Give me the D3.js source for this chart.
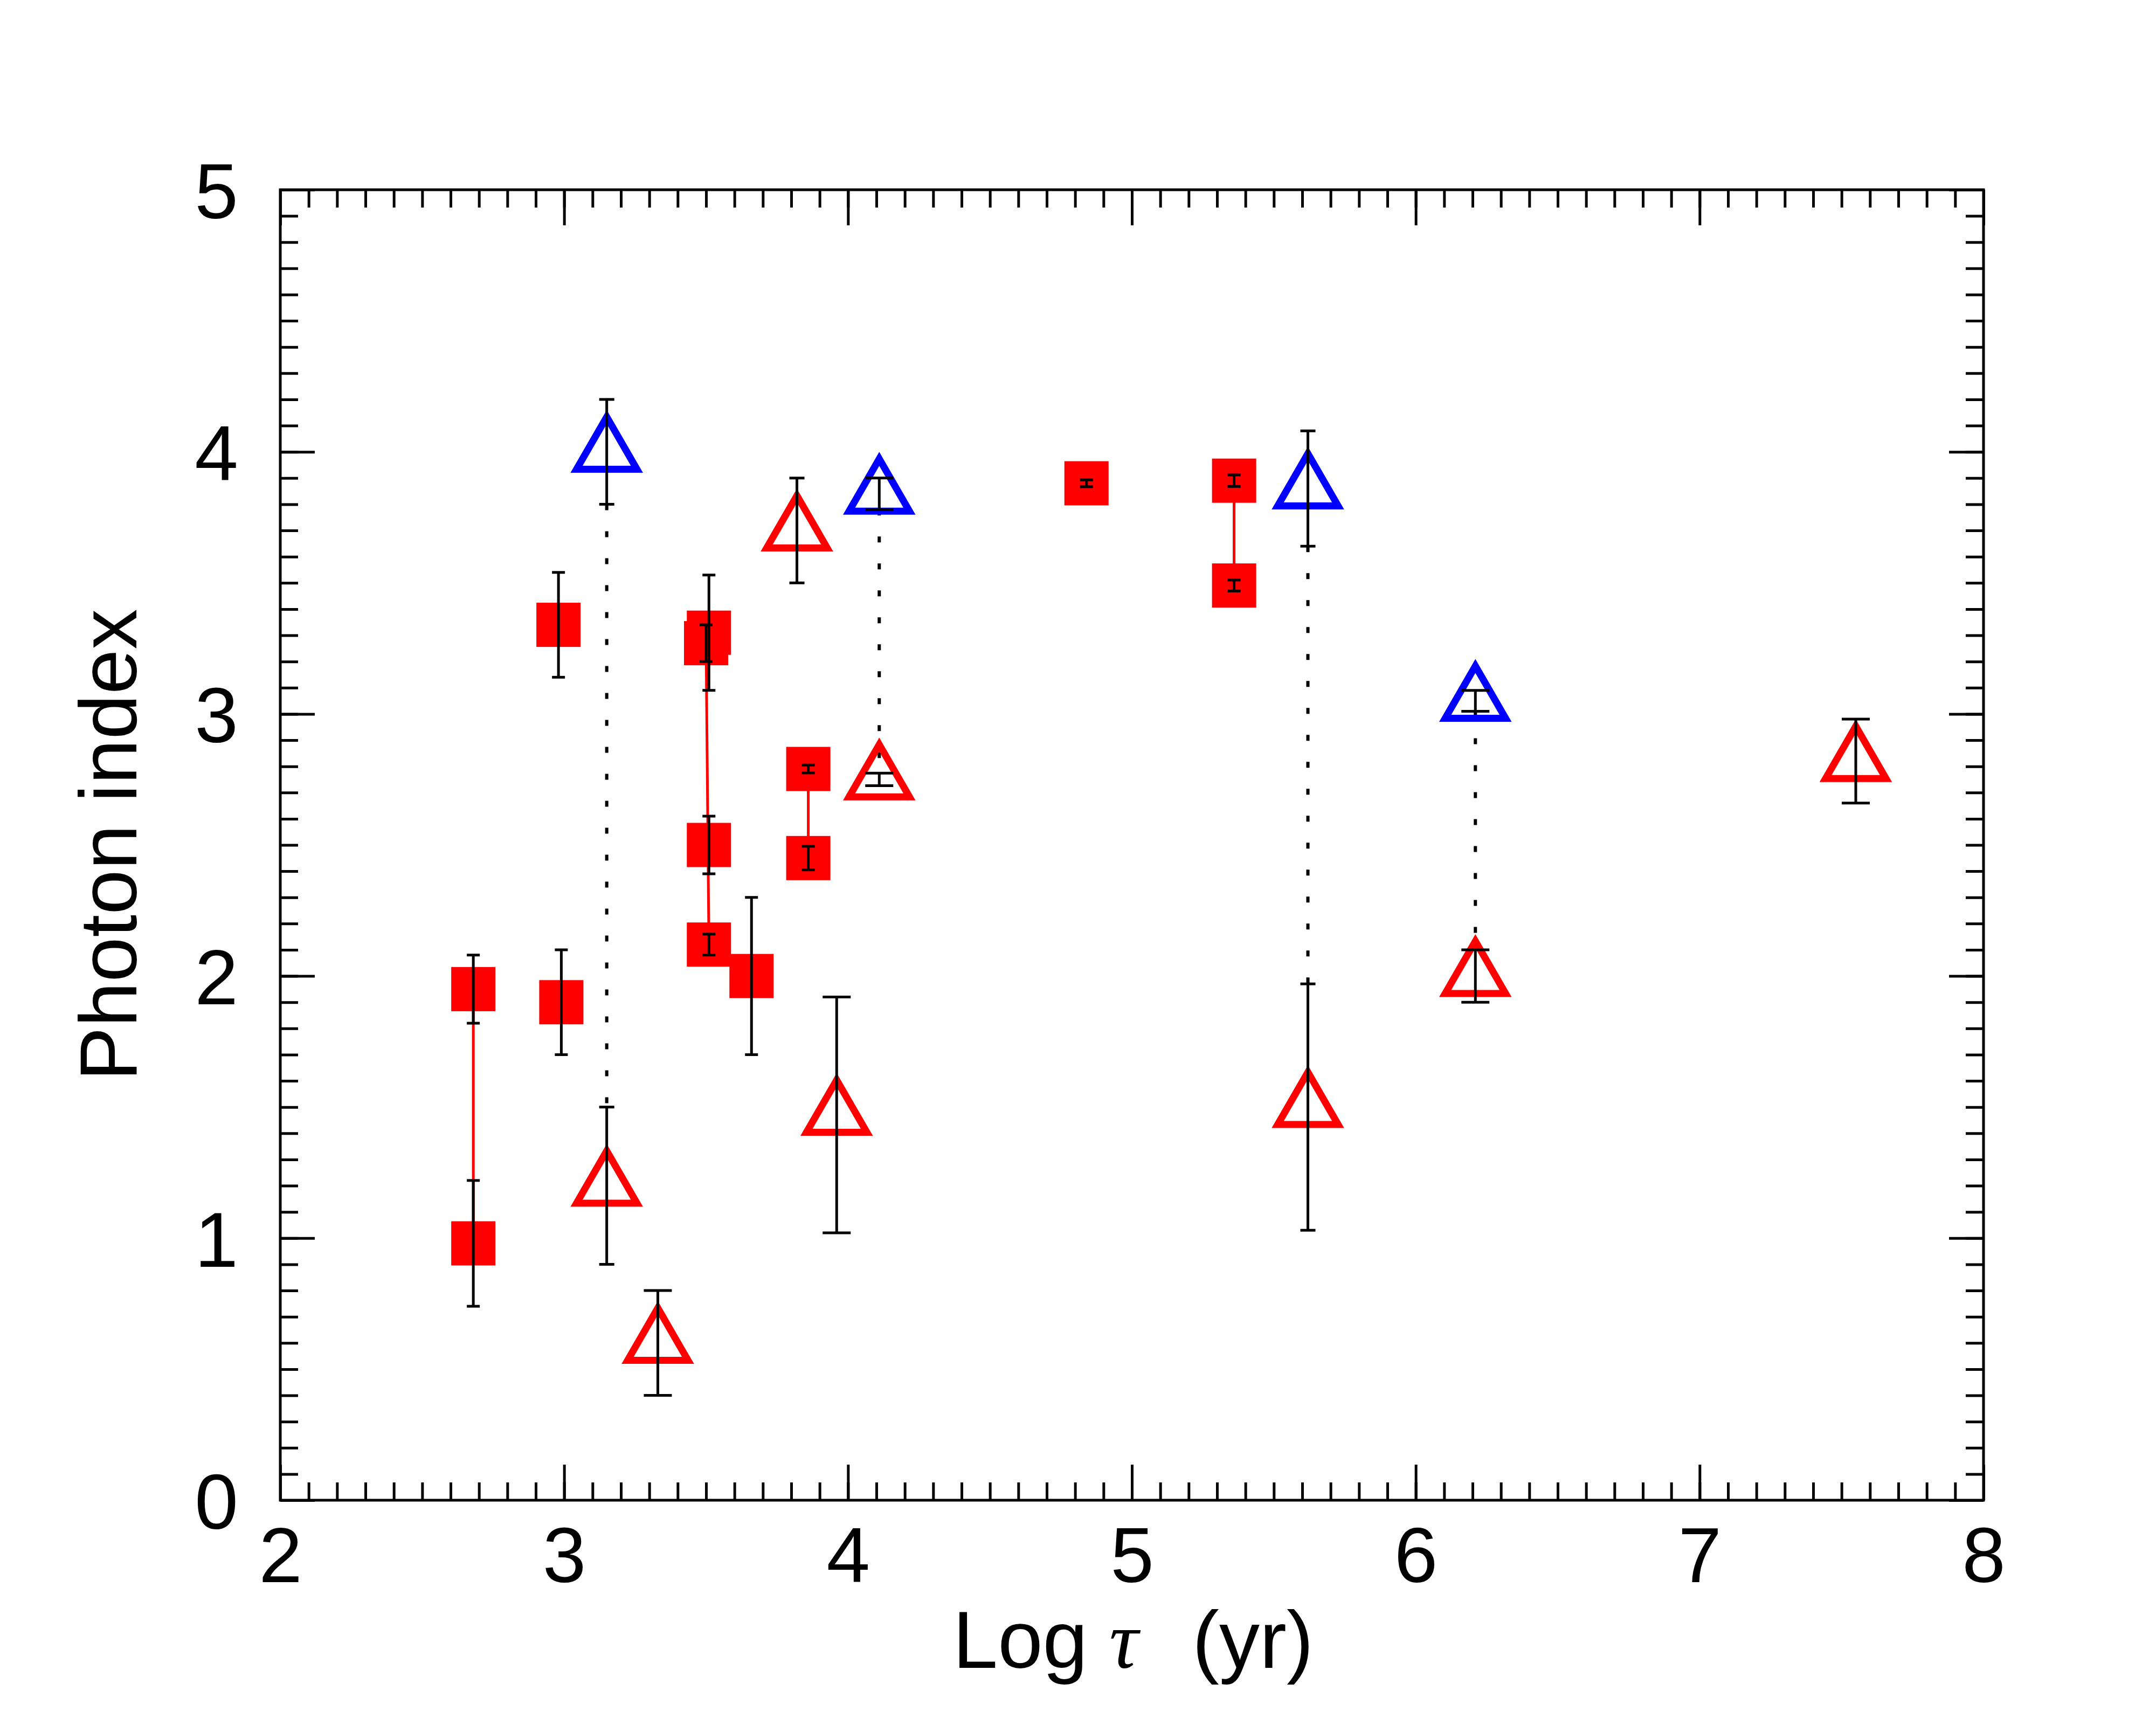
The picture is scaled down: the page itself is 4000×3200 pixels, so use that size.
<!DOCTYPE html>
<html>
<head>
<meta charset="utf-8">
<script src="https://cdn.jsdelivr.net/npm/d3@7"></script>
<style>
  body { margin: 0; background: #fff; }
  text { font-family: "Liberation Sans", Arial, Helvetica, sans-serif; }
</style>
</head>
<body>
<div id="chart"></div>
<script>
// Tick labels
const xTicks = [2, 3, 4, 5, 6, 7, 8];
const yTicks = [0, 1, 2, 3, 4, 5];

// Filled red squares
const sqLogAge = [2.68, 2.68, 2.98, 2.99, 3.51, 3.50, 3.51, 3.51, 3.66, 3.86, 3.86, 4.84, 5.36, 5.36];
const sqIndex  = [0.98, 1.95, 3.34, 1.90, 3.31, 3.27, 2.50, 2.12, 2.00, 2.79, 2.45, 3.88, 3.89, 3.49];
const sqErr    = [0.24, 0.13, 0.20, 0.20, 0.22, 0.07, 0.11, 0.04, 0.30, 0.015, 0.045, 0.013, 0.022, 0.021];
// pairs of squares joined by a red line
const sqLinks = [[0, 1], [5, 7], [9, 10], [12, 13]];

// Open red triangles
const rtLogAge = [3.15, 3.33, 3.82, 3.96, 4.11, 5.62, 6.21, 7.55];
const rtIndex  = [1.20, 0.60, 3.70, 1.47, 2.75, 1.50, 2.00, 2.82];
const rtErr    = [0.30, 0.20, 0.20, 0.45, 0.024, 0.47, 0.10, 0.16];

// Open blue triangles
const btLogAge = [3.15, 4.11, 5.62, 6.21];
const btIndex  = [4.00, 3.84, 3.86, 3.05];
const btErr    = [0.20, 0.06, 0.22, 0.04];
// blue triangle -> red triangle, dotted
const triLinks = [[0, 0], [1, 4], [2, 5], [3, 6]];

const W = 4000, H = 3200;
const margin = {top: 352, right: 320, bottom: 417, left: 520};
const width = W - margin.left - margin.right;
const height = H - margin.top - margin.bottom;

const svg = d3.select("#chart").append("svg")
  .attr("width", W)
  .attr("height", H)
  .attr("viewBox", `0 0 ${W} ${H}`);

svg.append("rect").attr("width", W).attr("height", H).attr("fill", "#fff");

const g = svg.append("g").attr("transform", `translate(${margin.left},${margin.top})`);

const x = d3.scaleLinear().domain([2, 8]).range([0, width]);
const y = d3.scaleLinear().domain([0, 5]).range([height, 0]);

const xMinor = d3.range(20, 81).map(d => d / 10);
const yMinor = d3.range(0, 51).map(d => d / 10);

// Axes: majors with labels, minors without, ticks pointing inward
function styleAxis(sel) {
  sel.select(".domain").remove();
  sel.selectAll(".tick line").attr("stroke", "#000").attr("stroke-width", 5);
  sel.selectAll(".tick text")
    .attr("fill", "#000")
    .style("font-size", "145px")
    .style("font-family", "'Liberation Sans', Arial, Helvetica, sans-serif");
}

g.append("g").attr("transform", `translate(0,${height})`)
  .call(d3.axisBottom(x).tickValues(xMinor).tickSize(-33).tickFormat(""))
  .call(styleAxis);
g.append("g").attr("transform", `translate(0,${height})`)
  .call(d3.axisBottom(x).tickValues(xTicks).tickSize(-66).tickPadding(49).tickFormat(d3.format("d")))
  .call(styleAxis);
g.append("g")
  .call(d3.axisTop(x).tickValues(xMinor).tickSize(-33).tickFormat(""))
  .call(styleAxis);
g.append("g")
  .call(d3.axisTop(x).tickValues(xTicks).tickSize(-66).tickFormat(""))
  .call(styleAxis);

g.append("g")
  .call(d3.axisLeft(y).tickValues(yMinor).tickSize(-33).tickFormat(""))
  .call(styleAxis);
g.append("g")
  .call(d3.axisLeft(y).tickValues(yTicks).tickSize(-64).tickPadding(78).tickFormat(d3.format("d")))
  .call(styleAxis)
  .selectAll(".tick text").attr("dy", "0.36em");
g.append("g").attr("transform", `translate(${width},0)`)
  .call(d3.axisRight(y).tickValues(yMinor).tickSize(-33).tickFormat(""))
  .call(styleAxis);
g.append("g").attr("transform", `translate(${width},0)`)
  .call(d3.axisRight(y).tickValues(yTicks).tickSize(-64).tickFormat(""))
  .call(styleAxis);

// Frame
g.append("rect")
  .attr("x", 0).attr("y", 0)
  .attr("width", width).attr("height", height)
  .attr("fill", "none")
  .attr("stroke", "#000")
  .attr("stroke-width", 5);

// Axis titles (x title in three pieces: Log, tau, (yr))
const cx = margin.left + width / 2;
const titleY = 3094;
svg.append("text")
  .attr("x", cx - 82).attr("y", titleY)
  .attr("text-anchor", "end")
  .style("font-size", "150px")
  .attr("fill", "#000")
  .text("Log");
svg.append("text")
  .attr("x", cx - 42).attr("y", titleY)
  .attr("text-anchor", "start")
  .style("font-family", "'Liberation Serif', 'Times New Roman', serif")
  .style("font-style", "italic")
  .style("font-size", "150px")
  .attr("fill", "#000")
  .text("τ");
svg.append("text")
  .attr("x", cx + 112).attr("y", titleY)
  .attr("text-anchor", "start")
  .style("font-size", "150px")
  .attr("fill", "#000")
  .text("(yr)");

svg.append("text")
  .attr("transform", `translate(253,${margin.top + height / 2}) rotate(-90)`)
  .attr("text-anchor", "middle")
  .style("font-size", "150px")
  .attr("fill", "#000")
  .text("Photon index");

const squares = sqLogAge.map((d, i) => ({x: d, y: sqIndex[i], e: sqErr[i]}));
const redTri = rtLogAge.map((d, i) => ({x: d, y: rtIndex[i], e: rtErr[i]}));
const blueTri = btLogAge.map((d, i) => ({x: d, y: btIndex[i], e: btErr[i]}));

// Dotted links between blue and red triangles
g.selectAll("line.dotlink")
  .data(triLinks)
  .join("line")
  .attr("class", "dotlink")
  .attr("x1", d => x(blueTri[d[0]].x))
  .attr("x2", d => x(redTri[d[1]].x))
  .attr("y1", d => y(blueTri[d[0]].y - blueTri[d[0]].e))
  .attr("y2", d => y(redTri[d[1]].y + redTri[d[1]].e))
  .attr("stroke", "#000")
  .attr("stroke-width", 6)
  .attr("stroke-dasharray", "11 39");

// Solid red links between squares
g.selectAll("line.sqlink")
  .data(sqLinks)
  .join("line")
  .attr("class", "sqlink")
  .attr("x1", d => x(squares[d[0]].x))
  .attr("x2", d => x(squares[d[1]].x))
  .attr("y1", d => y(squares[d[0]].y))
  .attr("y2", d => y(squares[d[1]].y))
  .attr("stroke", "#ff0000")
  .attr("stroke-width", 5);

// Squares
const sq = 82;
g.selectAll("rect.sq")
  .data(squares)
  .join("rect")
  .attr("class", "sq")
  .attr("x", d => x(d.x) - sq / 2)
  .attr("y", d => y(d.y) - sq / 2)
  .attr("width", sq)
  .attr("height", sq)
  .attr("fill", "#ff0000");

// Triangles (centroid on the point)
const side = 112;
const th = side * Math.sqrt(3) / 2;
const triPath = `M0,${-2 * th / 3}L${side / 2},${th / 3}L${-side / 2},${th / 3}Z`;

function drawTriangles(data, color, cls) {
  g.selectAll("path." + cls)
    .data(data)
    .join("path")
    .attr("class", cls)
    .attr("d", triPath)
    .attr("transform", d => `translate(${x(d.x)},${y(d.y)})`)
    .attr("fill", "none")
    .attr("stroke", color)
    .attr("stroke-width", 13)
    .attr("stroke-linejoin", "miter");
}
drawTriangles(redTri, "#ff0000", "rtri");
drawTriangles(blueTri, "#0000ff", "btri");

// Error bars
const narrowRed = new Set([0, 2, 5]);
const narrowBlue = new Set([0, 2]);
const errData = [
  ...squares.map(d => ({...d, cap: 12})),
  ...redTri.map((d, i) => ({...d, cap: narrowRed.has(i) ? 14 : 26})),
  ...blueTri.map((d, i) => ({...d, cap: narrowBlue.has(i) ? 14 : 26}))
];

const eb = g.selectAll("g.err")
  .data(errData)
  .join("g")
  .attr("class", "err")
  .attr("stroke", "#000")
  .attr("stroke-width", 5);
eb.append("line")
  .attr("x1", d => x(d.x)).attr("x2", d => x(d.x))
  .attr("y1", d => y(d.y + d.e)).attr("y2", d => y(d.y - d.e));
eb.append("line")
  .attr("x1", d => x(d.x) - d.cap).attr("x2", d => x(d.x) + d.cap)
  .attr("y1", d => y(d.y + d.e)).attr("y2", d => y(d.y + d.e));
eb.append("line")
  .attr("x1", d => x(d.x) - d.cap).attr("x2", d => x(d.x) + d.cap)
  .attr("y1", d => y(d.y - d.e)).attr("y2", d => y(d.y - d.e));
</script>
</body>
</html>
